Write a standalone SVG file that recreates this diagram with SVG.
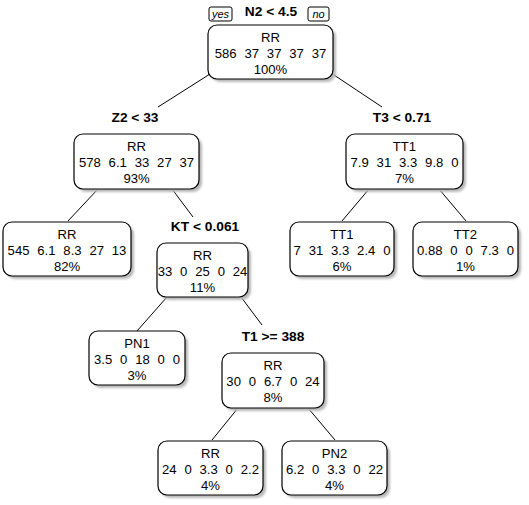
<svg xmlns="http://www.w3.org/2000/svg" width="529" height="505" viewBox="0 0 529 505">
<defs>
<style>
.box{fill:#fff;stroke:#000;stroke-width:1.2}
.sh{fill:#b8b8b8;filter:url(#blur)}
.t{font-family:"Liberation Sans",Arial,sans-serif;font-size:12.5px;text-anchor:middle;fill:#000;word-spacing:4px}
.b{font-family:"Liberation Sans",Arial,sans-serif;font-size:12.5px;font-weight:bold;text-anchor:middle;fill:#000}
.i{font-family:"Liberation Sans",Arial,sans-serif;font-size:10px;font-style:italic;text-anchor:middle;fill:#000}
.yn{fill:#fff;stroke:#000;stroke-width:1}
.e line{stroke:#000;stroke-width:1}
</style>
<filter id="blur" x="-10%" y="-10%" width="120%" height="130%"><feGaussianBlur stdDeviation="0.8"/></filter>
</defs>
<rect width="529" height="505" fill="#fff"/>
<g id="connectors" class="e">
<line x1="210" y1="74" x2="158" y2="107"/>
<line x1="331" y1="73" x2="382" y2="107"/>
<line x1="98" y1="189" x2="68" y2="221"/>
<line x1="172" y1="189" x2="193" y2="217"/>
<line x1="369" y1="189" x2="342" y2="221"/>
<line x1="439" y1="189" x2="466" y2="221"/>
<line x1="167" y1="297" x2="137" y2="331"/>
<line x1="241" y1="297" x2="262" y2="325"/>
<line x1="238" y1="408" x2="212" y2="440"/>
<line x1="308" y1="408" x2="335" y2="440"/>
</g>
<g id="labels">
<rect class="yn" x="209" y="7" width="23" height="14" rx="2"/>
<text class="i" transform="translate(220.5,18) scale(1.1,1)">yes</text>
<rect class="yn" x="308" y="7" width="21" height="14" rx="2"/>
<text class="i" transform="translate(318.5,18) scale(1.1,1)">no</text>
<text class="b" transform="translate(271,16) scale(1.1,1)">N2 &lt; 4.5</text>
<text class="b" transform="translate(135,122) scale(1.1,1)">Z2 &lt; 33</text>
<text class="b" transform="translate(402,122) scale(1.1,1)">T3 &lt; 0.71</text>
<text class="b" transform="translate(205,231) scale(1.1,1)">KT &lt; 0.061</text>
<text class="b" transform="translate(273,341) scale(1.1,1)">T1 &gt;= 388</text>
</g>
<g id="n_root">
<rect class="sh" x="211" y="28" width="125" height="54" rx="9"/>
<rect class="box" x="208" y="25" width="125" height="54" rx="9"/>
<text class="t" transform="translate(270.5,42) scale(1.05,1)">RR</text>
<text class="t" transform="translate(270.5,58) scale(1.05,1)">586 37 37 37 37</text>
<text class="t" transform="translate(270.5,74) scale(1.05,1)">100%</text>
</g>
<g id="n_z2">
<rect class="sh" x="77" y="137" width="125" height="55" rx="9"/>
<rect class="box" x="74" y="134" width="125" height="55" rx="9"/>
<text class="t" transform="translate(136.5,151) scale(1.05,1)">RR</text>
<text class="t" transform="translate(136.5,167) scale(1.05,1)">578 6.1 33 27 37</text>
<text class="t" transform="translate(136.5,183) scale(1.05,1)">93%</text>
</g>
<g id="n_t3">
<rect class="sh" x="349" y="137" width="117" height="55" rx="9"/>
<rect class="box" x="346" y="134" width="117" height="55" rx="9"/>
<text class="t" transform="translate(404.5,151) scale(1.05,1)">TT1</text>
<text class="t" transform="translate(404.5,167) scale(1.05,1)">7.9 31 3.3 9.8 0</text>
<text class="t" transform="translate(404.5,183) scale(1.05,1)">7%</text>
</g>
<g id="n_rr82">
<rect class="sh" x="6" y="225" width="128" height="54" rx="9"/>
<rect class="box" x="3" y="222" width="128" height="54" rx="9"/>
<text class="t" transform="translate(67,239) scale(1.05,1)">RR</text>
<text class="t" transform="translate(67,255) scale(1.05,1)">545 6.1 8.3 27 13</text>
<text class="t" transform="translate(67,271) scale(1.05,1)">82%</text>
</g>
<g id="n_kt">
<rect class="sh" x="160" y="246" width="91" height="54" rx="9"/>
<rect class="box" x="157" y="243" width="91" height="54" rx="9"/>
<text class="t" transform="translate(202.5,260) scale(1.05,1)">RR</text>
<text class="t" transform="translate(202.5,276) scale(1.05,1)">33 0 25 0 24</text>
<text class="t" transform="translate(202.5,292) scale(1.05,1)">11%</text>
</g>
<g id="n_tt1">
<rect class="sh" x="293" y="225" width="104" height="54" rx="9"/>
<rect class="box" x="290" y="222" width="104" height="54" rx="9"/>
<text class="t" transform="translate(342,239) scale(1.05,1)">TT1</text>
<text class="t" transform="translate(342,255) scale(1.05,1)">7 31 3.3 2.4 0</text>
<text class="t" transform="translate(342,271) scale(1.05,1)">6%</text>
</g>
<g id="n_tt2">
<rect class="sh" x="416" y="225" width="105" height="54" rx="9"/>
<rect class="box" x="413" y="222" width="105" height="54" rx="9"/>
<text class="t" transform="translate(465.5,239) scale(1.05,1)">TT2</text>
<text class="t" transform="translate(465.5,255) scale(1.05,1)">0.88 0 0 7.3 0</text>
<text class="t" transform="translate(465.5,271) scale(1.05,1)">1%</text>
</g>
<g id="n_pn1">
<rect class="sh" x="92" y="334" width="96" height="54" rx="9"/>
<rect class="box" x="89" y="331" width="96" height="54" rx="9"/>
<text class="t" transform="translate(137,348) scale(1.05,1)">PN1</text>
<text class="t" transform="translate(137,364) scale(1.05,1)">3.5 0 18 0 0</text>
<text class="t" transform="translate(137,380) scale(1.05,1)">3%</text>
</g>
<g id="n_t1">
<rect class="sh" x="225" y="356" width="102" height="55" rx="9"/>
<rect class="box" x="222" y="353" width="102" height="55" rx="9"/>
<text class="t" transform="translate(273,370) scale(1.05,1)">RR</text>
<text class="t" transform="translate(273,386) scale(1.05,1)">30 0 6.7 0 24</text>
<text class="t" transform="translate(273,402) scale(1.05,1)">8%</text>
</g>
<g id="n_rr4">
<rect class="sh" x="161" y="444" width="105" height="54" rx="9"/>
<rect class="box" x="158" y="441" width="105" height="54" rx="9"/>
<text class="t" transform="translate(210.5,458) scale(1.05,1)">RR</text>
<text class="t" transform="translate(210.5,474) scale(1.05,1)">24 0 3.3 0 2.2</text>
<text class="t" transform="translate(210.5,490) scale(1.05,1)">4%</text>
</g>
<g id="n_pn2">
<rect class="sh" x="285" y="444" width="105" height="54" rx="9"/>
<rect class="box" x="282" y="441" width="105" height="54" rx="9"/>
<text class="t" transform="translate(334.5,458) scale(1.05,1)">PN2</text>
<text class="t" transform="translate(334.5,474) scale(1.05,1)">6.2 0 3.3 0 22</text>
<text class="t" transform="translate(334.5,490) scale(1.05,1)">4%</text>
</g>
</svg>
